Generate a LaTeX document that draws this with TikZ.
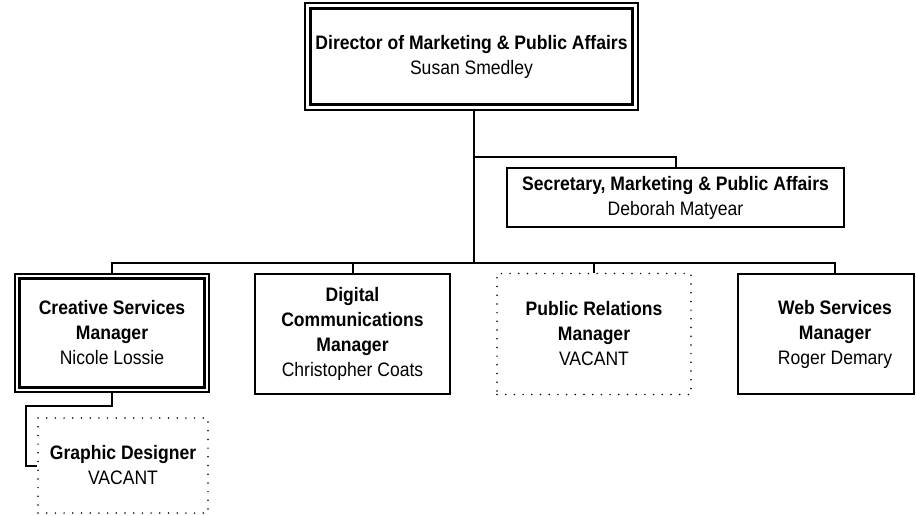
\documentclass[tikz,border=0pt]{standalone}
\usepackage{fontspec}
\setmainfont{Liberation Sans}[FakeStretch=0.9]
\begin{document}
\begin{tikzpicture}[x=1pt,y=-1pt,
  txt/.style={align=center, inner sep=0pt, font=\fontsize{19.5pt}{25pt}\selectfont},
  box/.style={txt, draw, line width=2pt},
  outerbox/.style={txt, draw, line width=1.1pt},
  vac/.style={txt, draw, line width=1.7pt, dash pattern=on 0pt off 8.7pt, line cap=round},
  conn/.style={line width=2pt},
  inner/.style={line width=2.2pt}]
\useasboundingbox (0,0) rectangle (916,515);

% Director
\node[outerbox, minimum width=333pt, minimum height=107pt] (director) at (471.5,56.5)
  {\textbf{Director of Marketing \& Public Affairs}\\Susan Smedley};
\draw[inner] ([shift={(6pt,-6pt)}]director.north west) rectangle ([shift={(-6pt,6pt)}]director.south east);

% Secretary
\node[box, minimum width=337pt, minimum height=59pt] (sec) at (675.5,197.5)
  {\textbf{Secretary, Marketing \& Public Affairs}\\Deborah Matyear};

% Managers
\node[outerbox, minimum width=194pt, minimum height=118pt] (creative) at (112,333)
  {\textbf{Creative Services}\\\textbf{Manager}\\Nicole Lossie};
\draw[inner] ([shift={(5pt,-5pt)}]creative.north west) rectangle ([shift={(-5pt,5pt)}]creative.south east);

\node[box, minimum width=195pt, minimum height=120pt] (digital) at (352.5,334)
  {\textbf{Digital}\\\textbf{Communications}\\\textbf{Manager}\\Christopher Coats};

\node[vac, minimum width=194pt, minimum height=121pt] (pr) at (594,334)
  {\textbf{Public Relations}\\\textbf{Manager}\\VACANT};

\node[box, minimum width=176pt, minimum height=120pt] (web) at (826,334) {};
\node[txt] (webtxt) at (835,334) {\textbf{Web Services}\\\textbf{Manager}\\Roger Demary};

% Graphic designer
\node[vac, minimum width=170pt, minimum height=95pt] (graphic) at (123,465.5)
  {\textbf{Graphic Designer}\\VACANT};

% Connectors
\coordinate (t) at (474,263);
\coordinate (b) at (474,157);
\draw[conn] (director.south -| t) -- (t);
\draw[conn] (b) -| (sec.north);
\draw[conn] (creative.north) -- (creative.north |- t) -- (webtxt.north |- t) -- (webtxt.north |- web.north);
\draw[conn] (digital.north) -- (digital.north |- t);
\draw[conn] (pr.north) -- (pr.north |- t);
\draw[conn] (creative.south) -- ++(0,13) -| ([xshift=-11pt]graphic.west) -- (graphic.west);
\end{tikzpicture}
\end{document}
